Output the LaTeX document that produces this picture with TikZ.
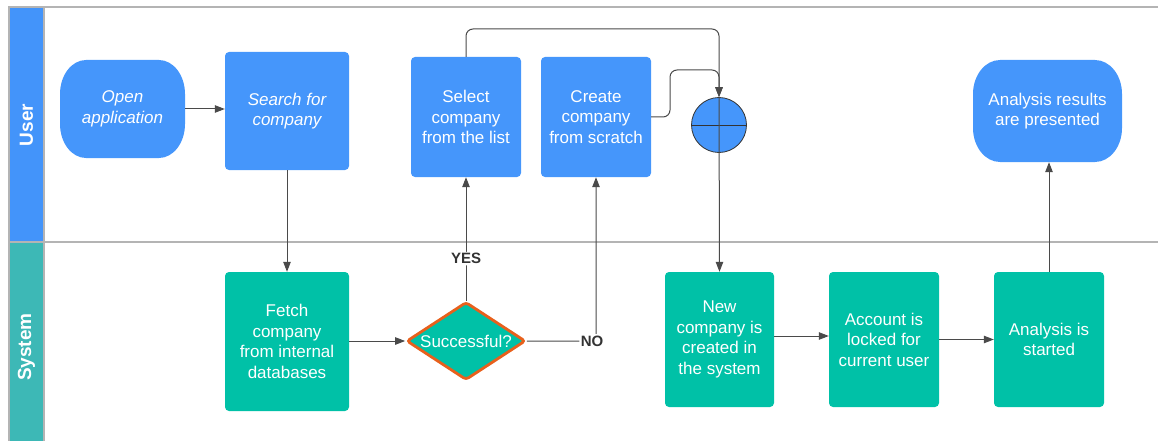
\documentclass[tikz,border=0pt]{standalone}
\usepackage{fontspec}
\setmainfont{Liberation Sans}
\usetikzlibrary{shapes.geometric,arrows.meta}

\definecolor{ublue}{HTML}{4596FB}
\definecolor{uhead}{HTML}{4394FA}
\definecolor{steal}{HTML}{00C1A7}
\definecolor{shead}{HTML}{3DB8B6}
\definecolor{framegray}{HTML}{B4B4B4}
\definecolor{linegray}{HTML}{4A4A4A}
\definecolor{labelgray}{HTML}{333333}
\definecolor{dorange}{HTML}{E8601C}

\newcommand\boxfont{\fontsize{17}{20.5}\selectfont}

% rounded rectangle with elliptical corners: colour, x0, y0, x1, y1, rx, ry
\newcommand\softbox[7]{%
  \fill[#1] ({#2+#6},#3) -- ({#4-#6},#3)
    arc[start angle=-90,end angle=0,x radius=#6,y radius=#7] -- (#4,{#5-#7})
    arc[start angle=0,end angle=90,x radius=#6,y radius=#7] -- ({#2+#6},#5)
    arc[start angle=90,end angle=180,x radius=#6,y radius=#7] -- (#2,{#3+#7})
    arc[start angle=180,end angle=270,x radius=#6,y radius=#7] -- cycle;}

\tikzset{
  txt/.style={text=white, align=center, font=\boxfont, inner sep=0pt},
  bluebox/.style={txt, rectangle, rounded corners=4pt, fill=ublue},
  tealbox/.style={txt, rectangle, rounded corners=4pt, fill=steal},
  conn/.style={draw=linegray, line width=1pt, rounded corners=7pt,
               -{Triangle[length=10pt,width=7.5pt]}},
  lbl/.style={fill=white, text=labelgray, inner sep=1.5pt,
              font=\bfseries\fontsize{15}{17}\selectfont},
  lanetext/.style={rotate=90, text=white, font=\bfseries\fontsize{19}{22}\selectfont},
}

\begin{document}
\begin{tikzpicture}[x=1pt,y=-1pt]
\useasboundingbox (0,0) rectangle (1158,441);

% swimlane headers and frame
\fill[uhead] (9,7) rectangle (44,242);
\fill[shead] (9,242) rectangle (44,441);
\draw[framegray, line width=1.3pt] (1158,7) -- (9,7) -- (9,441);
\draw[framegray, line width=1.3pt] (44,7) -- (44,441);
\draw[framegray, line width=1.3pt] (9,242) -- (1158,242);
\node[lanetext] (userlane) at (26.5,125) {User};
\node[lanetext] (syslane) at (26.5,347) {System};

% terminators
\softbox{ublue}{60}{60}{185}{158}{26}{34}
\node[txt, font=\boxfont\itshape, minimum width=125pt, minimum height=98pt]
  (open) at (122.5,109) {Open\\application};
\softbox{ublue}{973}{60}{1122}{162}{27}{34}
\node[txt, minimum width=149pt, minimum height=102pt]
  (res) at (1047.5,111) {Analysis results\\are presented};

% user lane steps
\node[bluebox, font=\boxfont\itshape, minimum width=124pt, minimum height=118pt]
  (search) at (287,111) {Search for\\company};
\node[bluebox, minimum width=110pt, minimum height=120pt]
  (sel) at (466,117) {Select\\company\\from the list};
\node[bluebox, minimum width=110pt, minimum height=120pt]
  (cre) at (596,117) {Create\\company\\from scratch};
\node[circle, draw=labelgray, line width=0.8pt, fill=ublue, minimum size=55pt, inner sep=0pt]
  (circ) at (719,125) {};
\draw[labelgray, line width=0.8pt] (circ.west) -- (circ.east);

% system lane steps
\node[tealbox, minimum width=124pt, minimum height=139pt]
  (fetch) at (287,341.5) {Fetch\\company\\from internal\\databases};
\node[diamond, draw=dorange, line width=2.8pt, fill=steal, rounded corners=3pt,
      minimum width=119pt, minimum height=78pt, inner sep=0pt]
  (dia) at (466,341) {};
\node[txt] (diatxt) at (466,341) {Successful?};
\node[tealbox, minimum width=109pt, minimum height=135pt]
  (newc) at (719.5,339.5) {New\\company is\\created in\\the system};
\node[tealbox, minimum width=110pt, minimum height=135pt]
  (acc) at (884,339.5) {Account is\\locked for\\current user};
\node[tealbox, minimum width=110pt, minimum height=135pt]
  (ana) at (1049,339.5) {Analysis is\\started};

% connectors
\coordinate (topA) at (0,29);
\coordinate (topB) at (670,70);
\draw[conn] (open.east) -- (search.west |- open.east);
\draw[conn] (search.south) -- (fetch.north);
\draw[conn] (fetch.east |- dia.west) -- (dia.west);
\draw[conn] (dia.north) -- node[lbl, pos=0.34] (yes) {YES} (sel.south);
\draw[conn] (dia.east) -| node[lbl, pos=0.5, xshift=-4pt] (no) {NO} (cre.south);
\draw[conn] (sel.north) -- (sel.north |- topA) -| (circ.north);
\draw[conn] (cre.east) -| (topB) -| (circ.north);
\draw[conn, rounded corners=0pt] (circ.north) -- (newc.north);
\draw[conn] ([yshift=3.5pt]newc.east) -- ([yshift=3.5pt]acc.west);
\draw[conn] (acc.east) -- (ana.west);
\draw[conn] (ana.north) -- (ana.north |- res.south);
\end{tikzpicture}
\end{document}
